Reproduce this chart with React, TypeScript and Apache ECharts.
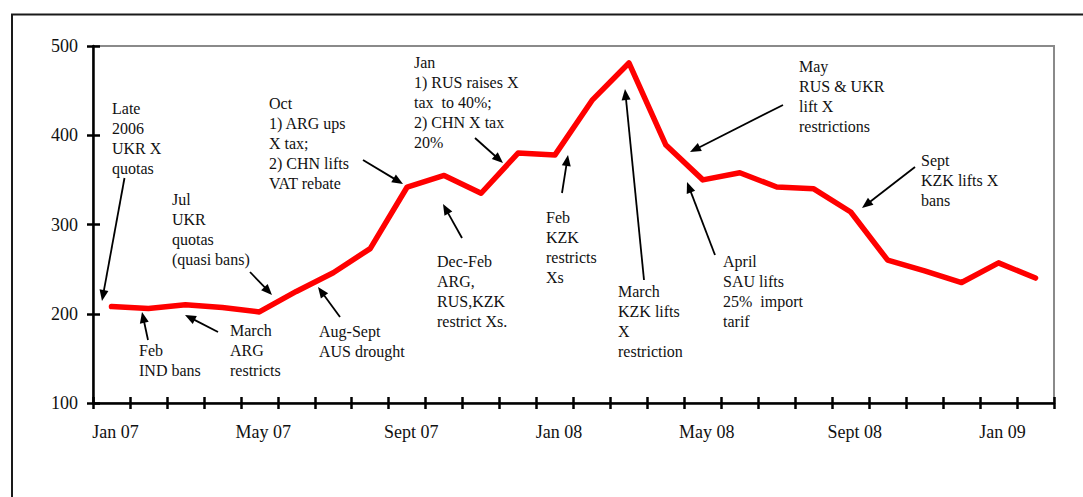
import React, { useEffect, useRef } from "react";
import * as echarts from "echarts";

const months: string[] = [
  "Jan 07", "Feb 07", "Mar 07", "Apr 07", "May 07", "Jun 07", "Jul 07", "Aug 07",
  "Sept 07", "Oct 07", "Nov 07", "Dec 07", "Jan 08", "Feb 08", "Mar 08", "Apr 08",
  "May 08", "Jun 08", "Jul 08", "Aug 08", "Sept 08", "Oct 08", "Nov 08", "Dec 08",
  "Jan 09", "Feb 09",
];
const prices: number[] = [
  208, 206, 210, 207, 202, 225, 246, 273, 342, 355, 335, 380, 378, 439, 481, 389,
  350, 358, 342, 340, 314, 260, 248, 235, 257, 240,
];
const yMin = 100;
const yMax = 500;
const yStep = 100;

// annotation texts with label position and arrow (from -> tip), in pixels
const notes: { text: string; x: number; y: number; a: [number, number, number, number] }[] = [
  { text: "Late\n2006\nUKR X\nquotas", x: 112, y: 98, a: [124.5, 178, 102, 301] },
  { text: "Jul\nUKR\nquotas\n(quasi bans)", x: 172, y: 189, a: [250, 272, 272, 295] },
  { text: "Oct\n1) ARG ups\nX tax;\n2) CHN lifts\nVAT rebate", x: 269, y: 93, a: [363, 160, 403, 184] },
  { text: "Feb\nIND bans", x: 139, y: 340, a: [148, 340, 142, 312] },
  { text: "March\nARG\nrestricts", x: 230, y: 320, a: [218, 332, 185, 315] },
  { text: "Aug-Sept\nAUS drought", x: 319, y: 321, a: [340, 317, 318, 287] },
  { text: "Jan\n1) RUS raises X\ntax  to 40%;\n2) CHN X tax\n20%", x: 414, y: 52, a: [475, 138, 503, 163] },
  { text: "Dec-Feb\nARG,\nRUS,KZK\nrestrict Xs.", x: 437, y: 251, a: [462, 238, 443, 204] },
  { text: "Feb\nKZK\nrestricts\nXs", x: 546, y: 207, a: [562, 193, 568, 155] },
  { text: "March\nKZK lifts\nX\nrestriction", x: 618, y: 281, a: [644, 280, 625, 89] },
  { text: "April\nSAU lifts\n25%  import\ntarif", x: 723, y: 251, a: [715, 255, 687, 182] },
  { text: "May\nRUS & UKR\nlift X\nrestrictions", x: 799, y: 56, a: [783, 105, 690, 152] },
  { text: "Sept\nKZK lifts X\nbans", x: 921, y: 150, a: [915, 167, 862, 208] },
];

const FONT = "'Liberation Serif', 'Times New Roman', serif";

function arrow(x1: number, y1: number, x2: number, y2: number): any[] {
  const dx = x2 - x1;
  const dy = y2 - y1;
  const len = Math.sqrt(dx * dx + dy * dy);
  const ux = dx / len;
  const uy = dy / len;
  const hl = 11;
  const hw = 4.5;
  const bx = x2 - ux * hl;
  const by = y2 - uy * hl;
  return [
    {
      type: "line",
      shape: { x1, y1, x2: bx + ux * 2, y2: by + uy * 2 },
      style: { stroke: "#000", lineWidth: 1.8 },
      z: 10,
    },
    {
      type: "polygon",
      shape: {
        points: [
          [x2, y2],
          [bx - uy * hw, by + ux * hw],
          [bx + uy * hw, by - ux * hw],
        ],
      },
      style: { fill: "#000" },
      z: 10,
    },
  ];
}

export default function App() {
  const ref = useRef<HTMLDivElement>(null);
  useEffect(() => {
    if (!ref.current) return;
    const chart = echarts.init(ref.current, null, { renderer: "svg" });
    const graphics: any[] = [
      {
        type: "rect",
        shape: { x: 12, y: 14.5, width: 1200, height: 600 },
        style: { fill: "none", stroke: "#1a1a1a", lineWidth: 2 },
        z: 1,
      },
    ];
    notes.forEach((n) => {
      graphics.push({
        type: "text",
        x: n.x,
        y: n.y,
        style: {
          text: n.text,
          font: `16px ${FONT}`,
          fontSize: 16,
          fontFamily: FONT,
          lineHeight: 20,
          fill: "#111",
          verticalAlign: "top",
          align: "left",
        },
        z: 10,
      });
      graphics.push(...arrow(n.a[0], n.a[1], n.a[2], n.a[3]));
    });

    chart.setOption({
      animation: false,
      backgroundColor: "#fff",
      grid: {
        left: 93,
        right: 29,
        top: 46,
        bottom: 94,
        show: true,
        borderColor: "#8a8a8a",
        borderWidth: 2,
        backgroundColor: "transparent",
      },
      xAxis: [
        {
          type: "category",
          data: months,
          boundaryGap: true,
          axisLine: { lineStyle: { color: "#000", width: 2.5 } },
          axisTick: { show: true, inside: false, length: 6, interval: 0, lineStyle: { color: "#000", width: 2.5 } },
          axisLabel: {
            interval: 3,
            margin: 20,
            padding: [0, 0, 0, 8],
            fontSize: 18,
            fontFamily: FONT,
            color: "#111",
          },
          splitLine: { show: false },
        },
        {
          type: "category",
          data: months,
          boundaryGap: true,
          position: "bottom",
          axisLine: { show: false },
          axisTick: { show: true, inside: true, length: 6, interval: 0, lineStyle: { color: "#000", width: 2.5 } },
          axisLabel: { show: false },
          splitLine: { show: false },
        },
      ],
      yAxis: [
        {
          type: "value",
          min: yMin,
          max: yMax,
          interval: yStep,
          axisLine: { show: true, lineStyle: { color: "#000", width: 2.5 } },
          axisTick: { show: true, inside: false, length: 6, lineStyle: { color: "#000", width: 2.5 } },
          axisLabel: { margin: 15, padding: [5, 0, 0, 0], fontSize: 18, fontFamily: FONT, color: "#111" },
          splitLine: { show: false },
        },
        {
          type: "value",
          min: yMin,
          max: yMax,
          interval: yStep,
          position: "left",
          axisLine: { show: false },
          axisTick: { show: true, inside: true, length: 7, lineStyle: { color: "#000", width: 2.5 } },
          axisLabel: { show: false },
          splitLine: { show: false },
        },
      ],
      series: [
        {
          type: "line",
          data: prices,
          xAxisIndex: 0,
          yAxisIndex: 0,
          symbol: "none",
          lineStyle: { color: "#ff0000", width: 5.5, join: "round", cap: "round" },
          z: 5,
        },
      ],
      graphic: graphics,
    });
    return () => chart.dispose();
  }, []);
  return (
    <div
      ref={ref}
      style={{ position: "fixed", left: 0, top: 0, width: 1083, height: 497, background: "#fff" }}
    />
  );
}
